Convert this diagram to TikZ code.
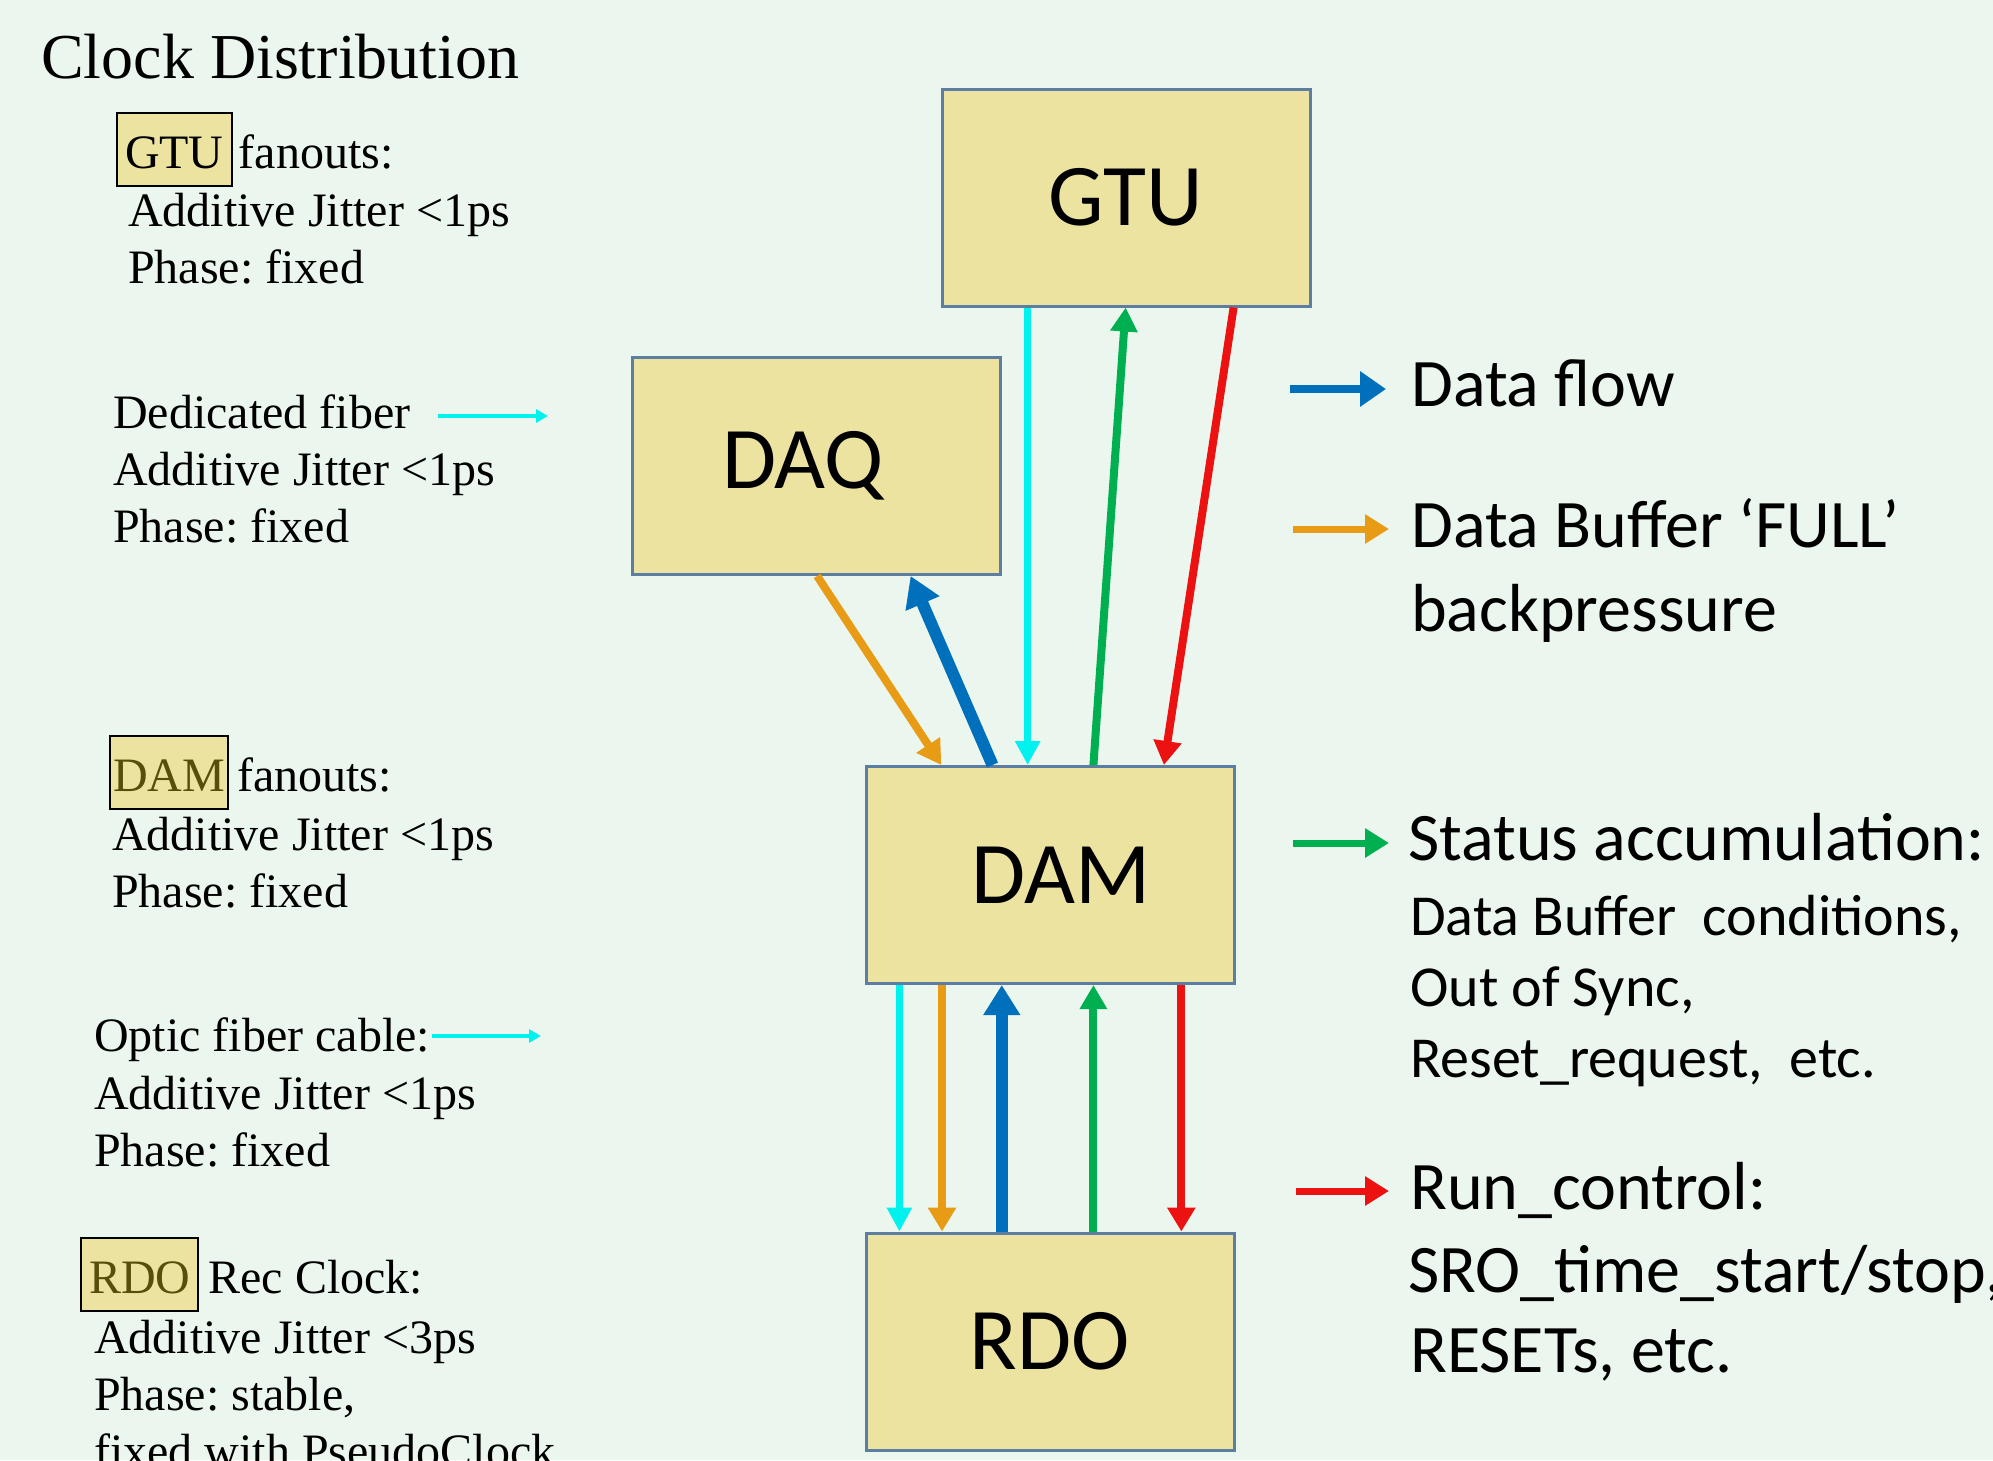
\documentclass[tikz,border=0pt]{standalone}
\usepackage{fontspec}
\setmainfont{Liberation Serif}
\newfontfamily\calib{Carlito}
\usepackage{xcolor}
\usetikzlibrary{
	arrows.meta,
	calc
}

\definecolor{bgmint}{RGB}{235,247,238}
\definecolor{boxfill}{RGB}{237,227,160}
\definecolor{boxline}{RGB}{92,126,162}
\definecolor{tagink}{RGB}{88,78,12}
\definecolor{clkcyan}{RGB}{0,242,238}
\definecolor{fullorange}{RGB}{232,156,22}
\definecolor{datablue}{RGB}{0,112,188}
\definecolor{statgreen}{RGB}{0,176,80}
\definecolor{runred}{RGB}{236,18,18}

\newcommand\serifbody{\fontsize{48}{58}\selectfont}
\newcommand\legbig{\calib\fontsize{68}{80}\selectfont}
\newcommand\legsmall{\calib\fontsize{58}{71}\selectfont}
\frenchspacing

\tikzset{
	block/.style={draw=boxline,line width=3pt,fill=boxfill,minimum width=368pt,minimum height=217pt,
		font=\calib\fontsize{88}{100}\selectfont},
	tag/.style={draw=black,line width=2pt,fill=boxfill,inner xsep=8pt,inner ysep=0pt,
		text height=55pt,text depth=18pt,anchor=base west,font=\serifbody},
	note/.style={anchor=base west,inner sep=0pt,font=\serifbody},
	legtxt/.style={anchor=base west,inner sep=0pt,font=\legbig},
	legsub/.style={anchor=base west,inner sep=0pt,font=\legsmall},
	clkline/.style={clkcyan,line width=7pt,-{Triangle[length=24pt,width=24pt]}},
	fullline/.style={fullorange,line width=8pt,-{Triangle[length=24pt,width=27pt]}},
	dataline/.style={datablue,line width=12pt,-{Triangle[length=30pt,width=35pt]}},
	statline/.style={statgreen,line width=8pt,-{Triangle[length=24pt,width=26pt]}},
	runline/.style={runred,line width=8pt,-{Triangle[length=24pt,width=27pt]}},
	fibline/.style={clkcyan,line width=4pt,-{Triangle[length=12pt,width=13pt]}},
	legline/.style={line width=7pt,-{Triangle[length=24pt,width=28pt]}}
}

\begin{document}
\begin{tikzpicture}[x=1pt,y=-1pt]
	\useasboundingbox (0,0) rectangle (1993,1460);
	\clip (0,0) rectangle (1993,1460);
	\fill[bgmint] (0,0) rectangle (1993,1460);

	% left column
	\node[note,font=\fontsize{64}{77}\selectfont] (ttl) at (41,78) {Clock Distribution};

	\node[tag] (tagGTU) at (116,168) {GTU};
	\node[note] (gtu1) at ($(tagGTU.base east)+(6,0)$) {fanouts:};
	\node[note] (gtu2) at (128,226) {Additive Jitter <1ps};
	\node[note] (gtu3) at (128,283) {Phase: fixed};

	\node[note] (ded1) at (113,428) {Dedicated fiber};
	\node[note] (ded2) at (113,485) {Additive Jitter <1ps};
	\node[note] (ded3) at (113,542) {Phase: fixed};

	\node[tag,text=tagink,inner xsep=3pt] (tagDAM) at (109,791) {DAM};
	\node[note] (dam1) at ($(tagDAM.base east)+(8,0)$) {fanouts:};
	\node[note] (dam2) at (112,850) {Additive Jitter <1ps};
	\node[note] (dam3) at (112,907) {Phase: fixed};

	\node[note] (opt1) at (94,1051) {Optic fiber cable:};
	\node[note] (opt2) at (94,1109) {Additive Jitter <1ps};
	\node[note] (opt3) at (94,1166) {Phase: fixed};

	\node[tag,text=tagink] (tagRDO) at (80,1293) {RDO};
	\node[note] (rdo1) at ($(tagRDO.base east)+(9,0)$) {Rec Clock:};
	\node[note] (rdo2) at (94,1353) {Additive Jitter <3ps};
	\node[note] (rdo3) at (94,1410) {Phase: stable,};
	\node[note] (rdo4) at (94,1467) {fixed with PseudoClock};

	\coordinate (fibA) at (438,416);
	\coordinate (fibB) at (548,416);
	\coordinate (optA) at (432,1036);
	\coordinate (optB) at (541,1036);
	\draw[fibline] (fibA) -- (fibB);
	\draw[fibline] (optA) -- (optB);

	% blocks
	\node[block] (gtu) at (1126,197.5) {GTU};
	\node[block] (daq) at (816,466) {DAQ\kern26pt};
	\node[block] (dam) at (1050,875) {\kern22pt DAM};
	\node[block] (rdo) at (1050,1341.5) {RDO};

	% GTU / DAQ <-> DAM
	\coordinate (gC) at ($(gtu.south west)!0.235!(gtu.south east)$);
	\coordinate (gG) at ($(gtu.south west)!0.499!(gtu.south east)$);
	\coordinate (gR) at ($(gtu.south west)!0.79!(gtu.south east)$);
	\coordinate (qO) at ($(daq.south west)!0.503!(daq.south east)$);
	\coordinate (qB) at ($(daq.south west)!0.755!(daq.south east)$);
	\coordinate (mO) at ($(dam.north west)!0.207!(dam.north east)$);
	\coordinate (mB) at ($(dam.north west)!0.345!(dam.north east)$);
	\coordinate (mG) at ($(dam.north west)!0.617!(dam.north east)$);
	\coordinate (mR) at ($(dam.north west)!0.807!(dam.north east)$);
	\draw[clkline] (gC) -- (gC |- dam.north);
	\draw[statline] (mG) -- (gG);
	\draw[runline] (gR) -- (mR);
	\draw[fullline] (qO) -- (mO);
	\draw[dataline] (mB) -- (qB);

	% DAM <-> RDO
	\coordinate (d1) at ($(dam.south west)!0.094!(dam.south east)$);
	\coordinate (d2) at ($(dam.south west)!0.209!(dam.south east)$);
	\coordinate (d3) at ($(dam.south west)!0.37!(dam.south east)$);
	\coordinate (d4) at ($(dam.south west)!0.617!(dam.south east)$);
	\coordinate (d5) at ($(dam.south west)!0.854!(dam.south east)$);
	\draw[clkline] (d1) -- (d1 |- rdo.north);
	\draw[fullline] (d2) -- (d2 |- rdo.north);
	\draw[dataline] (d3 |- rdo.north) -- (d3);
	\draw[statline] (d4 |- rdo.north) -- (d4);
	\draw[runline] (d5) -- (d5 |- rdo.north);

	% legend
	\node[legtxt] (lgData) at (1411,406) {Data flow};
	\node[legtxt] (lgFull) at (1411,547) {Data Buffer ‘FULL’};
	\node[legtxt] (lgFull2) at (1411,631) {backpressure};
	\node[legtxt] (lgStat) at (1408,860) {Status accumulation:};
	\node[legsub] (lgStat2) at (1410,935) {Data Buffer~~conditions,};
	\node[legsub] (lgStat3) at (1410,1006) {Out of Sync,};
	\node[legsub] (lgStat4) at (1410,1077) {Reset\_request,~~etc.};
	\node[legtxt] (lgRun) at (1410,1209) {Run\_control:};
	\node[legtxt] (lgRun2) at (1408,1292) {SRO\_time\_start/stop,};
	\node[legtxt] (lgRun3) at (1410,1372) {RESETs, etc.};

	\coordinate (lgB) at (1290,389);
	\coordinate (lgO) at (1293,529);
	\coordinate (lgG) at (1293,843);
	\coordinate (lgR) at (1296,1191);
	\draw[legline,datablue,line width=8pt,-{Triangle[length=26pt,width=34pt]}] (lgB) -- ++(96,0);
	\draw[legline,fullorange] (lgO) -- ++(96,0);
	\draw[legline,statgreen] (lgG) -- ++(96,0);
	\draw[legline,runred] (lgR) -- ++(93,0);
\end{tikzpicture}
\end{document}
